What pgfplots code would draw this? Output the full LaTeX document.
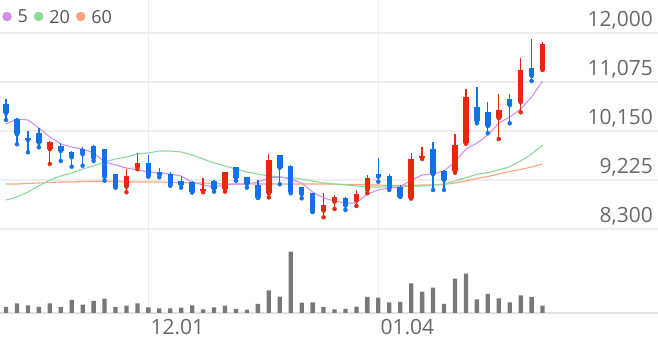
\documentclass[border=0pt]{standalone}
\usepackage{pgfplots}
\usepackage{pgfplotstable}
\pgfplotsset{compat=1.18}
\usepackage{fontspec}
\setmainfont{Open Sans}
\definecolor{upred}{RGB}{232,40,12}
\definecolor{downblue}{RGB}{18,112,232}
\definecolor{mafive}{RGB}{208,145,238}
\definecolor{matwenty}{RGB}{140,218,152}
\definecolor{masixty}{RGB}{246,165,125}
\definecolor{volgray}{RGB}{120,120,120}
\definecolor{gridc}{RGB}{238,238,238}
\definecolor{basec}{RGB}{225,225,225}
\definecolor{labc}{RGB}{105,105,105}
\definecolor{legc}{RGB}{85,85,85}

\pgfplotstableread{
x O H L C
4 9804 9960 9527 9948
11 9098 9427 8993 9306
12 9465 9740 9427 9552
18 9017 9257 8993 9049
20 9049 9375 9004 9370
24 8974 9716 8898 9602
29 8645 8974 8521 8753
30 8815 8942 8677 8910
32 8834 9036 8734 8955
33 9036 9319 8974 9268
37 8879 9729 8875 9621
38 9646 9854 9621 9684
41 9395 10093 9363 9880
42 9918 10943 9910 10797
45 10390 10843 9999 10546
47 10692 11534 10503 11296
49 11315 11824 11301 11792
}\upcandles

\pgfplotstableread{
x O H L C
0 10654 10754 10358 10484
1 10371 10390 9899 10088
2 10012 10150 9748 9980
3 10107 10201 9842 9929
5 9867 9918 9584 9772
6 9759 9765 9476 9653
7 9810 9854 9495 9710
8 9872 9880 9584 9635
9 9810 9815 9212 9282
10 9333 9340 9080 9087
13 9552 9697 9287 9306
14 9382 9446 9276 9314
15 9333 9382 9117 9131
16 9212 9300 9080 9136
17 9193 9200 8990 8993
19 9200 9225 9004 9061
21 9465 9470 9212 9268
22 9276 9280 9080 9149
23 9131 9225 8885 8891
25 9697 9700 9144 9457
26 9495 9500 8974 9004
27 9087 9090 8879 8955
28 8974 8980 8620 8626
31 8879 8910 8659 8740
34 9333 9635 9193 9287
35 9306 9338 9036 9068
36 9098 9131 8905 8910
39 9804 9937 9036 9333
40 9404 9410 9036 9225
43 10597 10986 10295 10339
44 10503 10692 10107 10244
46 10748 10843 10295 10635
48 11345 11881 11094 11188
}\downcandles

\pgfplotstableread{
x ma5 ma20 ma60
0 10282 8847 9149
1 10376 8904 9149
2 10358 8998 9159
3 10207 9112 9168
4 10037 9225 9178
5 9905 9300 9187
6 9848 9357 9187
7 9810 9433 9197
8 9735 9489 9197
9 9565 9565 9197
10 9508 9621 9197
11 9451 9659 9187
12 9414 9716 9187
13 9376 9735 9187
14 9357 9772 9187
15 9338 9772 9178
16 9300 9754 9178
17 9187 9697 9168
18 9131 9621 9168
19 9093 9546 9159
20 9131 9489 9149
21 9149 9433 9149
22 9149 9376 9149
23 9187 9338 9149
24 9263 9300 9149
25 9282 9282 9149
26 9244 9263 9149
27 9168 9244 9149
28 8998 9206 9149
29 8885 9168 9149
30 8828 9149 9149
31 8791 9131 9140
32 8791 9112 9140
33 8961 9093 9131
34 9036 9093 9131
35 9074 9093 9121
36 9093 9093 9121
37 9225 9112 9121
38 9319 9112 9131
39 9338 9131 9131
40 9395 9149 9140
41 9565 9206 9168
42 9810 9268 9206
43 9923 9333 9253
44 10074 9363 9291
45 10301 9414 9338
46 10414 9476 9385
47 10565 9584 9423
48 10792 9716 9470
49 11094 9886 9527
}\mas

\pgfplotstableread{
x v
0 18
1 29
2 23
3 18
4 29
5 18
6 39
7 25
8 36
9 43
10 18
11 22
12 29
13 17
14 14
15 14
16 16
17 23
18 11
19 17
20 22
21 12
22 10
23 27
24 68
25 49
26 184
27 31
28 32
29 18
30 11
31 12
32 19
33 48
34 46
35 32
36 33
37 89
38 64
39 76
40 27
41 103
42 118
43 41
44 57
45 44
46 32
47 53
48 48
49 22
}\vol

\newcommand{\legfont}{\fontsize{18}{20}\selectfont}

\begin{document}
\begin{tikzpicture}
\path[use as bounding box] (0pt,0pt) rectangle (658pt,342pt);

% volume panel
\begin{axis}[
  at={(0pt,29pt)}, anchor=south west,
  scale only axis, width=658pt, height=73pt,
  xmin=-0.548, xmax=59.54, ymin=0, ymax=219,
  axis y line=none, axis x line*=bottom,
  x axis line style={draw=basec, line width=1.2pt, -},
  xtick={13,34}, xticklabels={12.01,01.04},
  major tick length=0pt,
  xmajorgrids, grid style={gridc, line width=1.3pt},
  xticklabel style={anchor=north west, inner sep=0pt, xshift=2pt, yshift=-6pt,
    font=\fontsize{21}{24}\selectfont, text=labc},
  clip=false,
]
\addplot[ybar, bar width=4.3pt, fill=volgray, draw=none] table[x=x,y=v] {\vol};
\end{axis}

% price panel
\begin{axis}[
  at={(0pt,102pt)}, anchor=south west,
  scale only axis, width=658pt, height=240pt,
  xmin=-0.548, xmax=59.54, ymin=8092, ymax=12623,
  scaled y ticks=false,
  axis line style={draw=none},
  major tick length=0pt,
  xtick={13,34}, xticklabels={},
  ytick={8300,9225,10150,11075,12000},
  yticklabels={{8,300},{9,225},{10,150},{11,075},{12,000}},
  yticklabel pos=right,
  yticklabel style={anchor=base east, inner sep=0pt, xshift=-5pt, yshift=6pt,
    font=\fontsize{21}{24}\selectfont, text=labc},
  xmajorgrids, ymajorgrids, grid style={gridc, line width=1.3pt},
  legend columns=-1,
  legend cell align=left,
  legend style={at={(axis description cs:0,1)}, anchor=north west,
    draw=none, fill=none, inner sep=0pt, outer sep=0pt,
    xshift=2.35pt, yshift=-10pt,
    font=\legfont,
    nodes={font=\legfont, text=legc, inner sep=0pt, text depth=0pt},
    /tikz/every odd column/.append style={column sep=6pt},
    /tikz/every even column/.append style={column sep=6pt}},
]
\addlegendimage{legend image code/.code={\fill[mafive] (4.5pt,0pt) circle (4.5pt);}}
\addlegendentry{\legfont 5}
\addlegendimage{legend image code/.code={\fill[matwenty] (4.5pt,0pt) circle (4.5pt);}}
\addlegendentry{\legfont 20}
\addlegendimage{legend image code/.code={\fill[masixty] (4.5pt,0pt) circle (4.5pt);}}
\addlegendentry{\legfont 60}

\addplot[forget plot, masixty, line width=1.1pt, mark=none] table[x=x,y=ma60] {\mas};
\addplot[forget plot, matwenty, line width=1.1pt, mark=none] table[x=x,y=ma20] {\mas};
\addplot[forget plot, mafive, line width=1.1pt, mark=none] table[x=x,y=ma5] {\mas};

% wicks
\addplot[forget plot, only marks, mark=none, upred,
  error bars/.cd, y dir=plus, y explicit, error mark=none,
  error bar style={line width=1.3pt, upred}]
  table[x=x, y=L, y error expr=\thisrow{H}-\thisrow{L}] {\upcandles};
\addplot[forget plot, only marks, mark=none, downblue,
  error bars/.cd, y dir=plus, y explicit, error mark=none,
  error bar style={line width=1.3pt, downblue}]
  table[x=x, y=L, y error expr=\thisrow{H}-\thisrow{L}] {\downcandles};
% bodies
\addplot[forget plot, only marks, mark=none, upred,
  error bars/.cd, y dir=plus, y explicit, error mark=none,
  error bar style={line width=5.5pt, upred}]
  table[x=x, y=O, y error expr=\thisrow{C}-\thisrow{O}] {\upcandles};
\addplot[forget plot, only marks, mark=none, downblue,
  error bars/.cd, y dir=plus, y explicit, error mark=none,
  error bar style={line width=5.5pt, downblue}]
  table[x=x, y=C, y error expr=\thisrow{O}-\thisrow{C}] {\downcandles};
\end{axis}
\end{tikzpicture}
\end{document}
